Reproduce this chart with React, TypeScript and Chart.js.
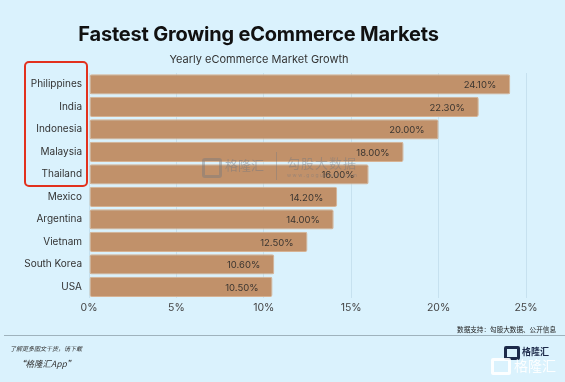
import React, { useEffect, useRef } from "react";
import { Chart, registerables } from "chart.js";

Chart.register(...registerables);

const categories = ["Philippines", "India", "Indonesia", "Malaysia", "Thailand", "Mexico", "Argentina", "Vietnam", "South Korea", "USA"];
const growth = [24.1, 22.3, 20.0, 18.0, 16.0, 14.2, 14.0, 12.5, 10.6, 10.5];
const xTicks = [0, 5, 10, 15, 20, 25];

const FONT = "Inter, 'Noto Sans', sans-serif";
const CJK = "'Noto Sans CJK SC', sans-serif";

const valueLabels = {
  id: "valueLabels",
  afterDatasetsDraw(chart: any) {
    const { ctx } = chart;
    const meta = chart.getDatasetMeta(0);
    ctx.save();
    ctx.font = `9.5px ${FONT}`;
    ctx.fillStyle = "#3a3530";
    ctx.textAlign = "right";
    ctx.textBaseline = "middle";
    meta.data.forEach((bar: any, i: number) => {
      ctx.fillText(growth[i].toFixed(2) + "%", bar.x - 14, bar.y + 1);
    });
    ctx.restore();
  },
};

export default function App() {
  const ref = useRef<HTMLCanvasElement>(null);
  useEffect(() => {
    document.body.style.margin = "0";
    const chart = new Chart(ref.current!, {
      type: "bar",
      data: {
        labels: categories,
        datasets: [
          {
            data: growth,
            backgroundColor: "#c1916a",
            borderColor: "#d6b293",
            borderWidth: 1,
            borderRadius: 2,
            borderSkipped: false,
            barPercentage: 0.9,
            categoryPercentage: 1,
          },
        ],
      },
      options: {
        indexAxis: "y",
        animation: false,
        responsive: false,
        layout: { padding: { left: 0, right: 39, top: 73, bottom: 64 } },
        plugins: { legend: { display: false }, tooltip: { enabled: false } },
        scales: {
          x: {
            min: 0,
            max: 25,
            afterBuildTicks: (s: any) => {
              s.ticks = xTicks.map((v) => ({ value: v }));
            },
            afterFit: (s: any) => {
              s.height = 20;
            },
            ticks: {
              callback: (v: any) => v + "%",
              color: "#444",
              font: { family: FONT, size: 10.5 },
              padding: 4,
              maxRotation: 0,
            },
            grid: { color: "rgba(160,195,212,0.35)", drawTicks: false },
            border: { display: false },
          },
          y: {
            afterFit: (s: any) => {
              s.width = 89;
            },
            ticks: {
              color: "#333",
              font: { family: FONT, size: 10 },
              padding: 7,
            },
            grid: { display: false, drawTicks: false },
            border: { display: false },
          },
        },
      },
      plugins: [valueLabels],
    });
    return () => chart.destroy();
  }, []);

  return (
    <div style={{ position: "relative", width: 565, height: 382, background: "#daf2fd", overflow: "hidden", fontFamily: FONT }}>
      <canvas ref={ref} width={565} height={382} style={{ position: "absolute", left: 0, top: 0 }} />
      <div style={{ position: "absolute", left: 0, width: 517, top: 22, textAlign: "center", fontSize: 20, fontWeight: 700, color: "#111", letterSpacing: -0.2 }}>
        Fastest Growing eCommerce Markets
      </div>
      <div style={{ position: "absolute", left: 0, width: 518, top: 52, textAlign: "center", fontSize: 11, color: "#333" }}>
        Yearly eCommerce Market Growth
      </div>
      <div style={{ position: "absolute", left: 24, top: 61, width: 60, height: 122, border: "2px solid #e2311d", borderRadius: 5 }} />
      <div style={{ position: "absolute", left: 202, top: 158, width: 14, height: 14, border: "3px solid rgba(110,118,128,0.4)", borderRadius: 3 }} />
      <div style={{ position: "absolute", left: 225, top: 155, fontSize: 13, color: "rgba(110,118,128,0.45)", fontFamily: CJK, whiteSpace: "nowrap" }}>
        格隆汇
      </div>
      <div style={{ position: "absolute", left: 276, top: 152, width: 1, height: 28, background: "rgba(110,118,128,0.35)" }} />
      <div style={{ position: "absolute", left: 287, top: 153, fontSize: 13, letterSpacing: 1, color: "rgba(110,118,128,0.4)", fontFamily: CJK, whiteSpace: "nowrap" }}>
        勾股大数据
      </div>
      <div style={{ position: "absolute", left: 287, top: 172, fontSize: 5, letterSpacing: 1.5, color: "rgba(110,118,128,0.45)", whiteSpace: "nowrap" }}>
        www.gogudata.com
      </div>
      <div style={{ position: "absolute", right: 9, top: 324, fontSize: 6.6, color: "#222", fontFamily: CJK, whiteSpace: "nowrap" }}>
        数据支持：勾股大数据、公开信息
      </div>
      <div style={{ position: "absolute", left: 4, top: 335, width: 561, height: 1, background: "#9fb3bd" }} />
      <div style={{ position: "absolute", left: 10, top: 344, fontSize: 6, fontStyle: "italic", color: "#333", fontFamily: CJK, whiteSpace: "nowrap" }}>
        了解更多图文干货，请下载
      </div>
      <div style={{ position: "absolute", left: 17, top: 357, fontSize: 8.5, fontStyle: "italic", color: "#333", fontFamily: CJK, whiteSpace: "nowrap" }}>
        “格隆汇App”
      </div>
      <div style={{ position: "absolute", left: 504, top: 346, width: 10, height: 8, border: "3px solid #1c2a4a", borderRadius: 2 }} />
      <div style={{ position: "absolute", left: 522, top: 345, fontSize: 9, fontWeight: 700, color: "#1c2a4a", fontFamily: CJK, whiteSpace: "nowrap" }}>
        格隆汇
      </div>
      <div style={{ position: "absolute", left: 491, top: 358, width: 14, height: 11, border: "3px solid rgba(255,255,255,0.9)", borderRadius: 2 }} />
      <div style={{ position: "absolute", left: 514, top: 355, fontSize: 14, color: "rgba(255,255,255,0.92)", fontFamily: CJK, whiteSpace: "nowrap" }}>
        格隆汇
      </div>
    </div>
  );
}
